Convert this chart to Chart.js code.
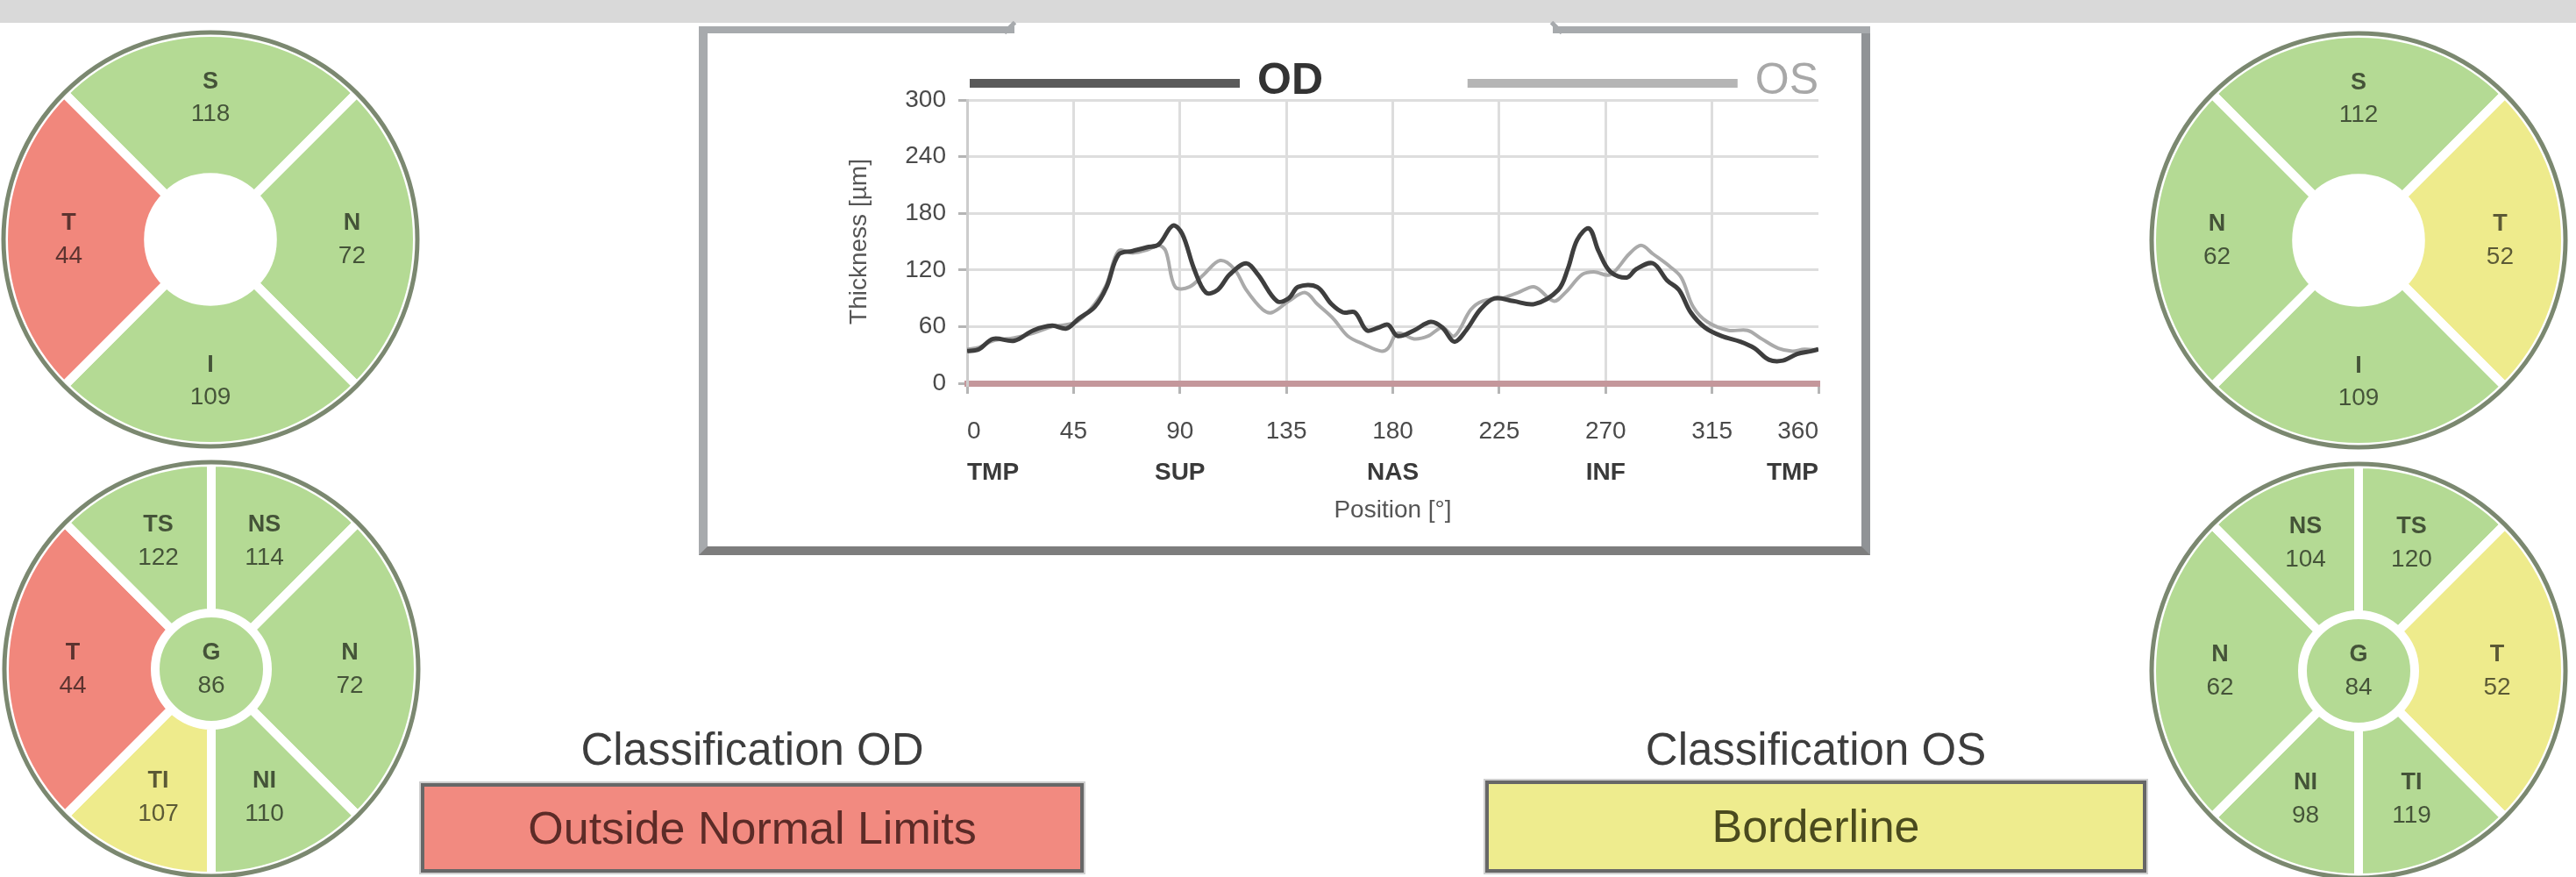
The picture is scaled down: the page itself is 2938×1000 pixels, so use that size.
<!DOCTYPE html>
<html>
<head>
<meta charset="utf-8">
<title>RNFL thickness OD / OS</title>
<script src="https://cdn.jsdelivr.net/npm/chart.js@4.4.1/dist/chart.umd.min.js"></script>
<style>
  html, body { margin: 0; padding: 0; width: 2938px; height: 1000px; overflow: hidden; background: #fff; }
  body { position: relative; font-family: "Liberation Sans", Arial, sans-serif; }
  canvas { position: absolute; }
  .band { position: absolute; left: 0; top: 0; width: 2938px; height: 26px; background: #d9d9d9; }
  .frame { position: absolute; left: 797px; top: 30px; width: 1316px; height: 593px;
           border-left: 10px solid #a7aaad; border-right: 10px solid #909396; border-bottom: 10px solid #7d7d7d; }
  .edge { position: absolute; top: 30px; height: 8px; background: #a7aaad; }
  .hook { position: absolute; top: 29px; width: 17px; height: 5px; background: #a7aaad; }
  .cls-title { position: absolute; width: 760px; text-align: center; font-size: 51px; line-height: 60px; color: #3d3d3d; }
  .cls-box { position: absolute; text-align: center; font-size: 52px; border: 4px solid #676767;
             box-shadow: 0 0 0 2px #cfcfcf; }
</style>
</head>
<body>
<div class="band"></div>
<div class="frame"></div>
<div class="edge" style="left:797px; width:360px;"></div>
<div class="edge" style="left:1771px; width:362px;"></div>
<div class="hook" style="left:1143px; transform: rotate(-45deg);"></div>
<div class="hook" style="left:1767px; transform: rotate(45deg);"></div>

<canvas id="odQuad" width="490" height="490" style="left:-5px; top:28px;"></canvas>
<canvas id="odSector" width="490" height="490" style="left:-4px; top:518px;"></canvas>
<canvas id="osQuad" width="490" height="490" style="left:2445px; top:29px;"></canvas>
<canvas id="osSector" width="490" height="490" style="left:2445px; top:520px;"></canvas>
<canvas id="tsnit" width="1200" height="550" style="left:900px; top:60px;"></canvas>

<div class="cls-title" style="left:478px; top:825px;">Classification OD</div>
<div class="cls-box" style="left:480px; top:893px; width:748px; height:94px; line-height:94px; background:#f28a80; color:#5c2b27;">Outside Normal Limits</div>
<div class="cls-title" style="left:1691px; top:825px;">Classification OS</div>
<div class="cls-box" style="left:1694px; top:890px; width:746px; height:97px; line-height:97px; background:#eeec8e; color:#4a4a1e;">Borderline</div>

<script>
// thickness profile, degrees around the disc (TMP-SUP-NAS-INF-TMP)
const odDeg = [0, 5, 11, 20, 28, 36, 42, 47, 54, 59, 64, 70, 76, 81, 87, 91, 96, 101, 106, 111, 118, 123, 131, 136, 140, 148, 154, 159, 164, 169, 174, 178,
  182, 189, 196, 201, 206, 211, 217, 223, 231, 240, 250, 254, 258, 263, 267, 272, 279, 283, 290, 296, 301, 306, 312, 319, 327, 333, 339, 345, 351, 357, 360];
const odThk = [34, 36, 47, 45, 56, 61, 58, 68, 81, 102, 136, 140, 144, 147, 167, 158, 121, 96, 99, 115, 127, 115, 87, 90, 102, 102, 84, 75, 75, 56, 59, 62,
  50, 56, 65, 59, 44, 56, 78, 90, 87, 84, 99, 121, 152, 164, 140, 118, 112, 121, 127, 109, 99, 75, 59, 50, 44, 37, 25, 24, 31, 34, 36];
const osDeg = [0, 5, 11, 20, 28, 36, 42, 47, 54, 59, 64, 70, 76, 81, 84, 88, 94, 100, 107, 113, 118, 125, 129, 136, 143, 148, 155, 161, 168, 175, 178,
  182, 189, 195, 201, 206, 213, 218, 226, 233, 240, 248, 253, 260, 265, 272, 280, 285, 290, 297, 302, 307, 313, 322, 330, 336, 343, 349, 354, 360];
const osThk = [36, 38, 45, 48, 53, 60, 62, 66, 84, 105, 140, 138, 141, 146, 140, 102, 102, 115, 130, 121, 99, 78, 75, 87, 96, 84, 68, 50, 41, 34, 37,
  53, 47, 50, 59, 50, 78, 87, 90, 96, 102, 87, 96, 115, 118, 115, 137, 146, 137, 124, 112, 81, 65, 56, 56, 47, 37, 34, 36, 35];

const regionDeg = [0, 90, 180, 270, 360];
const regionNames = ['TMP', 'SUP', 'NAS', 'INF', 'TMP'];

// quadrant maps (clockwise from the top, first slice centred on top)
const quadSpans = [90, 90, 90, 90];
const odQuadNames = ['S', 'N', 'I', 'T'];
const odQuadValues = [118, 72, 109, 44];
const odQuadClass = ['n', 'n', 'n', 'o'];
const osQuadNames = ['S', 'T', 'I', 'N'];
const osQuadValues = [112, 52, 109, 62];
const osQuadClass = ['n', 'b', 'n', 'n'];

// sector maps (clockwise from 12 o'clock) plus global average
const sectorSpans = [45, 90, 45, 45, 90, 45];
const odSectorNames = ['NS', 'N', 'NI', 'TI', 'T', 'TS'];
const odSectorValues = [114, 72, 110, 107, 44, 122];
const odSectorClass = ['n', 'n', 'n', 'b', 'o', 'n'];
const odGlobal = 86;
const osSectorNames = ['TS', 'T', 'TI', 'NI', 'N', 'NS'];
const osSectorValues = [120, 52, 119, 98, 62, 104];
const osSectorClass = ['n', 'b', 'n', 'n', 'n', 'n'];
const osGlobal = 84;

const classColors = { n: '#b4da94', b: '#eeeb8c', o: '#f1877c' };
const FONT = '"Liberation Sans", Arial, sans-serif';

/**
 * Draws the dark rim and the name / value text in each segment
 */
const ringLabels = {
  id: 'ringLabels',
  afterDatasetsDraw(chart, args, opts) {
    const ctx = chart.ctx;
    const rim = chart.getDatasetMeta(0).data[0];
    ctx.save();
    ctx.beginPath();
    ctx.arc(rim.x, rim.y, rim.outerRadius, 0, Math.PI * 2);
    ctx.lineWidth = 5;
    ctx.strokeStyle = '#7b8870';
    ctx.stroke();

    ctx.fillStyle = 'rgba(0, 0, 0, 0.62)';
    ctx.textAlign = 'center';
    ctx.textBaseline = 'middle';
    chart.data.datasets.forEach((ds, di) => {
      chart.getDatasetMeta(di).data.forEach((arc, i) => {
        let px = arc.x;
        let py = arc.y;
        if (arc.innerRadius > 0) {
          const mid = (arc.startAngle + arc.endAngle) / 2;
          const r = (arc.innerRadius + arc.outerRadius) / 2 + opts.shift;
          px = arc.x + Math.cos(mid) * r;
          py = arc.y + Math.sin(mid) * r;
        }
        ctx.font = `bold 27px ${FONT}`;
        ctx.fillText(ds.names[i], px, py - 18);
        ctx.font = `28px ${FONT}`;
        ctx.fillText(String(ds.values[i]), px, py + 19);
      });
    });
    ctx.restore();
  }
};

function ringOptions(rotation) {
  return {
    responsive: false,
    animation: false,
    devicePixelRatio: 1,
    rotation: rotation,
    layout: { padding: 4 },
    plugins: { legend: { display: false }, tooltip: { enabled: false }, ringLabels: { shift: 8 } }
  };
}

function drawQuadMap(canvasId, names, values, classes) {
  const opts = ringOptions(-45);
  opts.cutout = '30%';
  return new Chart(document.getElementById(canvasId), {
    type: 'doughnut',
    data: {
      labels: names,
      datasets: [{
        data: quadSpans,
        names: names,
        values: values,
        backgroundColor: classes.map(c => classColors[c]),
        borderColor: '#ffffff',
        borderWidth: 10
      }]
    },
    options: opts,
    plugins: [ringLabels]
  });
}

function drawSectorMap(canvasId, names, values, classes, globalValue) {
  const opts = ringOptions(0);
  opts.cutout = 0;
  return new Chart(document.getElementById(canvasId), {
    type: 'doughnut',
    data: {
      labels: names,
      datasets: [{
        data: sectorSpans,
        names: names,
        values: values,
        weight: 172,
        backgroundColor: classes.map(c => classColors[c]),
        borderColor: '#ffffff',
        borderWidth: 10
      }, {
        data: [360],
        names: ['G'],
        values: [globalValue],
        weight: 64,
        backgroundColor: classColors.n,
        borderWidth: 0
      }]
    },
    options: opts,
    plugins: [ringLabels]
  });
}

drawQuadMap('odQuad', odQuadNames, odQuadValues, odQuadClass);
drawSectorMap('odSector', odSectorNames, odSectorValues, odSectorClass, odGlobal);
drawQuadMap('osQuad', osQuadNames, osQuadValues, osQuadClass);
drawSectorMap('osSector', osSectorNames, osSectorValues, osSectorClass, osGlobal);

/**
 * Legend above the plot: long line sample followed by the eye name,
 * first item at the left edge, last one flush right
 */
const topLegend = {
  id: 'topLegend',
  afterDraw(chart, args, opts) {
    const { ctx, chartArea } = chart;
    const y = chartArea.top - 19;
    chart.data.datasets.forEach((ds, i) => {
      ctx.save();
      ctx.font = `${opts.weights[i]} 50px ${FONT}`;
      const tw = ctx.measureText(ds.label).width;
      const w = 308 + 20 + tw;
      const x0 = i === 0 ? chartArea.left + 3 : chartArea.right - w;
      ctx.strokeStyle = opts.lineColors[i];
      ctx.lineWidth = 10;
      ctx.beginPath();
      ctx.moveTo(x0, y);
      ctx.lineTo(x0 + 308, y);
      ctx.stroke();
      ctx.fillStyle = opts.textColors[i];
      ctx.textBaseline = 'middle';
      ctx.fillText(ds.label, x0 + 328, y - 2);
      ctx.restore();
    });
  }
};

const tickFont = { family: FONT, size: 28 };
const zeroLine = '#c4979b';

new Chart(document.getElementById('tsnit'), {
  type: 'line',
  data: {
    datasets: [{
      label: 'OD',
      data: odDeg.map((d, i) => ({ x: d, y: odThk[i] })),
      borderColor: '#3e3e3e',
      borderWidth: 5,
      pointRadius: 0,
      tension: 0.35
    }, {
      label: 'OS',
      data: osDeg.map((d, i) => ({ x: d, y: osThk[i] })),
      borderColor: '#aaaaaa',
      borderWidth: 4,
      pointRadius: 0,
      tension: 0.35
    }]
  },
  options: {
    responsive: false,
    animation: false,
    devicePixelRatio: 1,
    layout: { padding: { left: 0, top: 54, right: 23, bottom: 0 } },
    plugins: {
      legend: { display: false },
      tooltip: { enabled: false },
      topLegend: {
        weights: ['bold', 'normal'],
        lineColors: ['#5a5a5a', '#b5b5b5'],
        textColors: ['#333333', '#a8a8a8']
      }
    },
    scales: {
      x: {
        type: 'linear',
        position: 'bottom',
        weight: 0,
        min: 0,
        max: 360,
        afterFit(scale) { scale.height = 73; },
        ticks: { stepSize: 45, align: 'inner', padding: 26, maxRotation: 0, color: '#4a4a4a', font: tickFont },
        grid: {
          color: c => (c.tick && c.tick.value === 360 ? 'rgba(0,0,0,0)' : '#dddddd'),
          lineWidth: 3,
          tickLength: 12,
          tickColor: '#b5b5b5',
          tickWidth: 3
        },
        border: { color: zeroLine, width: 7 }
      },
      x2: {
        type: 'linear',
        position: 'bottom',
        weight: 1,
        min: 0,
        max: 360,
        afterFit(scale) { scale.height = 100; },
        ticks: {
          stepSize: 90,
          align: 'inner',
          padding: 12,
          maxRotation: 0,
          color: '#3a3a3a',
          font: { family: FONT, size: 28, weight: 'bold' },
          callback: v => regionNames[regionDeg.indexOf(v)]
        },
        grid: { display: false, drawTicks: false },
        border: { display: false },
        title: {
          display: true,
          text: 'Position [°]',
          color: '#555555',
          padding: { top: 0, bottom: 11 },
          font: tickFont
        }
      },
      y: {
        min: 0,
        max: 300,
        afterFit(scale) { scale.width = 203; },
        ticks: { stepSize: 60, padding: 14, color: '#4a4a4a', font: tickFont },
        grid: {
          color: c => (c.tick && c.tick.value === 0 ? zeroLine : '#dddddd'),
          lineWidth: c => (c.tick && c.tick.value === 0 ? 7 : 3),
          tickLength: 10,
          tickColor: '#b5b5b5',
          tickWidth: 3
        },
        border: { color: '#cccccc', width: 3 },
        title: {
          display: true,
          text: 'Thickness [µm]',
          color: '#555555',
          padding: { top: 63, bottom: 0 },
          font: tickFont
        }
      }
    }
  },
  plugins: [topLegend]
});
</script>
</body>
</html>
